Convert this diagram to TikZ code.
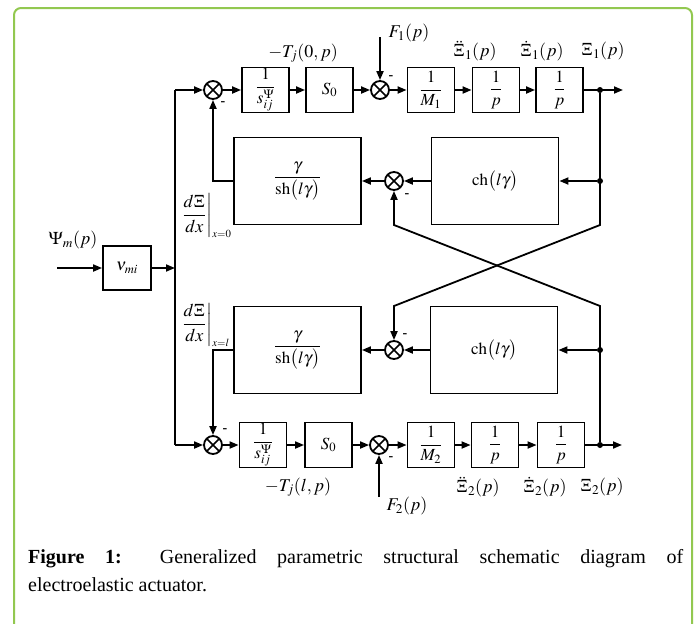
\documentclass[tikz,border=0pt]{standalone}
\usepackage{amsmath}
\usepackage{mathptmx}
\usepackage{fontspec}
\setmainfont{Liberation Serif}
\usetikzlibrary{arrows.meta}
\definecolor{framegreen}{RGB}{146,200,80}

\begin{document}
\begin{tikzpicture}[x=1pt, y=-1pt,
    blk/.style={draw, line width=1.8pt, minimum width=47pt, minimum height=45pt, inner sep=0pt, font=\fontsize{17}{20}\selectfont},
    bigblk/.style={blk, minimum width=127pt, minimum height=87pt},
    sumj/.style={circle, draw, line width=1.8pt, minimum size=18pt, inner sep=0pt,
        path picture={\draw[line width=1.6pt] (path picture bounding box.north west) -- (path picture bounding box.south east)
            (path picture bounding box.north east) -- (path picture bounding box.south west);}},
    arr/.style={-{Triangle[length=9pt,width=7pt]}, line width=1.8pt},
    ln/.style={line width=1.8pt},
    lbl/.style={font=\fontsize{18}{21}\selectfont, inner sep=0pt},
    sgn/.style={font=\fontsize{14}{14}\selectfont\bfseries, inner sep=0pt},
    dot/.style={circle, fill, inner sep=0pt, minimum size=6pt}
]
\useasboundingbox (0,0) rectangle (699,624);
\draw[framegreen, line width=2pt, rounded corners=7pt] (14,660) -- (14,8) -- (692,8) -- (692,660);

\node[sumj] (sa1) at (213,90) {};
\node[blk] (inv1) at (265.5,90) {$\dfrac{1}{s_{ij}^{\Psi}}$};
\node[blk] (so1) at (329.5,90) {$S_0$};
\node[sumj] (sb1) at (380,90) {};
\node[blk] (m1) at (431,90) {$\dfrac{1}{M_1}$};
\node[blk] (pa1) at (496,90) {$\dfrac{1}{p}$};
\node[blk] (pb1) at (559.5,90) {$\dfrac{1}{p}$};
\node[dot] (o1) at (600,90) {};
\coordinate (e1) at (623,90);

\node[bigblk] (sh1) at (297.5,181) {$\dfrac{\gamma}{\mathrm{sh}\bigl(l\gamma\bigr)}$};
\node[sumj] (sc1) at (394,181) {};
\node[bigblk] (ch1) at (495,181) {$\mathrm{ch}\bigl(l\gamma\bigr)$};
\node[dot] (d1) at (600,181) {};

\node[bigblk] (sh2) at (297.5,350) {$\dfrac{\gamma}{\mathrm{sh}\bigl(l\gamma\bigr)}$};
\node[sumj] (sc2) at (394,350) {};
\node[bigblk] (ch2) at (494,350) {$\mathrm{ch}\bigl(l\gamma\bigr)$};
\node[dot] (d2) at (600,350) {};

\node[sumj] (sa2) at (213,445) {};
\node[blk] (inv2) at (263,445) {$\dfrac{1}{s_{ij}^{\Psi}}$};
\node[blk] (so2) at (328.5,445) {$S_0$};
\node[sumj] (sb2) at (379,445) {};
\node[blk] (m2) at (431,445) {$\dfrac{1}{M_2}$};
\node[blk] (pa2) at (495,445) {$\dfrac{1}{p}$};
\node[blk] (pb2) at (561,445) {$\dfrac{1}{p}$};
\node[dot] (o2) at (600,445) {};
\coordinate (e2) at (622,445);

\node[blk, minimum width=48pt, minimum height=44pt] (vmi) at (127,268) {$\nu_{mi}$};
\coordinate (in) at (57,268);
\coordinate (bm) at (175,268);
\coordinate (bt) at (175,90);
\coordinate (bb) at (175,445);
\coordinate (f1) at (380,37);
\coordinate (f2) at (379,497);
\coordinate (k1) at (600,225);
\coordinate (k2) at (394,306);
\coordinate (k3) at (600,306);
\coordinate (k4) at (394,225);

\draw[arr] (in) -- (vmi);
\draw[arr] (vmi) -- (bm);
\draw[ln] (bt) -- (bb);
\draw[arr] (bt) -- (sa1);
\draw[arr] (bb) -- (sa2);

\draw[arr] (sa1) -- (inv1);
\draw[arr] (inv1) -- (so1);
\draw[arr] (so1) -- (sb1);
\draw[arr] (sb1) -- (m1);
\draw[arr] (m1) -- (pa1);
\draw[arr] (pa1) -- (pb1);
\draw[arr] (pb1) -- (e1);
\draw[arr] (f1) -- (sb1);

\draw[arr] (sa2) -- (inv2);
\draw[arr] (inv2) -- (so2);
\draw[arr] (so2) -- (sb2);
\draw[arr] (sb2) -- (m2);
\draw[arr] (m2) -- (pa2);
\draw[arr] (pa2) -- (pb2);
\draw[arr] (pb2) -- (e2);
\draw[arr] (f2) -- (sb2);

\draw[arr] (d1) -- (ch1);
\draw[arr] (ch1) -- (sc1);
\draw[arr] (sc1) -- (sh1);
\draw[arr] (sh1.west) -| (sa1);
\draw[arr] (d2) -- (ch2);
\draw[arr] (ch2) -- (sc2);
\draw[arr] (sc2) -- (sh2);
\draw[arr] (sh2.west) -| (sa2);

\draw[arr] (o1) -- (k1) -- (k2) -- (sc2);
\draw[arr] (o2) -- (k3) -- (k4) -- (sc1);

\node[sgn] (m_a1) at (223,104) {-};
\node[sgn] (m_b1) at (391,78) {-};
\node[sgn] (m_c1) at (407,196) {-};
\node[sgn] (m_c2) at (405,336) {-};
\node[sgn] (m_a2) at (225,431) {-};
\node[sgn] (m_b2) at (391,459) {-};

\node[lbl] (lpsi) at (73,240) {$\Psi_m(p)$};
\node[lbl] (lt1) at (303,53) {$-T_j(0,p)$};
\node[lbl] (lt2) at (298,487) {$-T_j(l,p)$};
\node[lbl] (lf1) at (409,33) {$F_1(p)$};
\node[lbl] (lf2) at (407,506) {$F_2(p)$};
\node[lbl] (lx1) at (475,51) {$\ddot{\Xi}_1(p)$};
\node[lbl] (lv1) at (542,51) {$\dot{\Xi}_1(p)$};
\node[lbl] (ly1) at (603,51) {$\Xi_1(p)$};
\node[lbl] (lx2) at (478,487) {$\ddot{\Xi}_2(p)$};
\node[lbl] (lv2) at (545,487) {$\dot{\Xi}_2(p)$};
\node[lbl] (ly2) at (602,487) {$\Xi_2(p)$};
\node[lbl, anchor=west] (ld0) at (181,216) {$\left.\dfrac{d\Xi}{dx}\right|_{\scriptscriptstyle x=0}$};
\node[lbl, anchor=west] (ldl) at (181,325) {$\left.\dfrac{d\Xi}{dx}\right|_{\scriptscriptstyle x=l}$};

\node[anchor=north west, text width=655pt, align=justify, inner sep=0pt, font=\fontsize{20}{28}\selectfont] (cap) at (28,549)
  {\textbf{Figure 1:} Generalized parametric structural schematic diagram of\linebreak electroelastic actuator.};
\end{tikzpicture}
\end{document}
